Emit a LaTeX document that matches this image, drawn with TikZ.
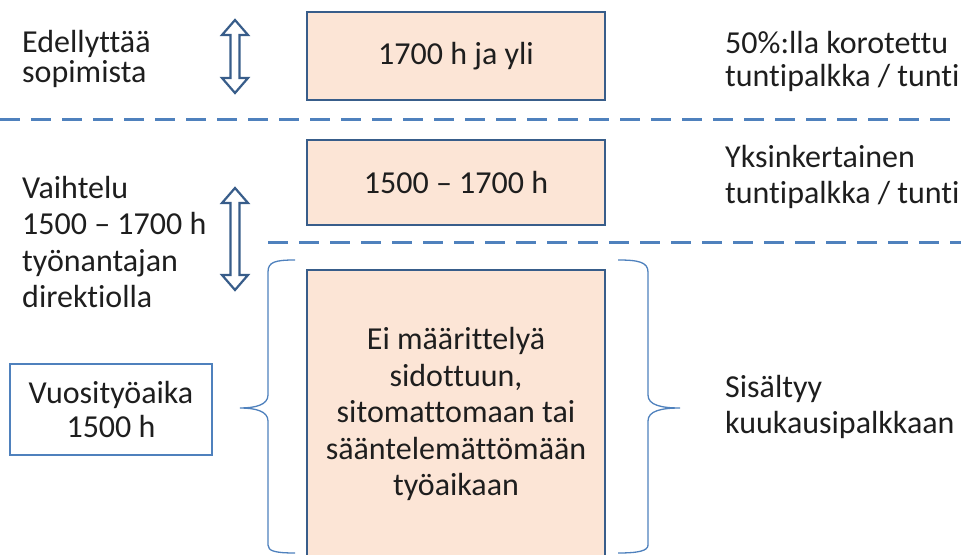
\documentclass[tikz,border=0pt]{standalone}
\usepackage{fontspec}
\setmainfont{Carlito}[Ligatures=NoCommon]
\definecolor{boxfill}{RGB}{252,229,214}
\definecolor{boxline}{RGB}{56,93,138}
\definecolor{dashline}{RGB}{79,129,189}
\definecolor{txt}{RGB}{30,30,30}
\begin{document}
\begin{tikzpicture}[line join=miter,
  band/.style={draw=boxline,fill=boxfill,line width=2.2bp,minimum width=298bp,inner sep=0pt,align=center,text=txt},
  label/.style={draw=none,align=left,anchor=west,inner sep=0pt,text=txt},
  divider/.style={dashline,line width=3bp,dash pattern=on 20bp off 11bp},
  span/.style={boxline,line width=2.2bp,fill=white},
  brace/.style={dashline,line width=1.3bp},
  font=\fontsize{32bp}{36.5bp}\selectfont]
\useasboundingbox (0bp,0bp) rectangle (961bp,555bp);
%%
\node (node_0) at (456bp,499bp) [band,minimum height=88bp] {1700 h ja yli};
  \node (node_1) at (456bp,372.5bp) [band,minimum height=85bp] {1500 -- 1700 h};
  \node (node_2) at (456bp,141bp) [band,minimum height=288bp] {Ei määrittelyä\\sidottuun,\\sitomattomaan tai\\sääntelemättömään\\työaikaan};
  \node (node_3) at (111bp,145.5bp) [band,draw=dashline,fill=white,line width=2bp,minimum width=202bp,minimum height=91bp,font=\fontsize{32bp}{34bp}\selectfont] {Vuosityöaika\\1500 h};
  \node (node_4) at (22bp,496bp) [label,font=\fontsize{32bp}{30bp}\selectfont] {Edellyttää\\sopimista};
  \node (node_5) at (22bp,313bp) [label] {Vaihtelu\\1500 -- 1700 h\\työnantajan\\direktiolla};
  \node (node_6) at (725bp,494bp) [label,font=\fontsize{32bp}{33bp}\selectfont] {50\%:lla korotettu\\tuntipalkka / tunti};
  \node (node_7) at (725bp,378bp) [label] {Yksinkertainen\\tuntipalkka / tunti};
  \node (node_8) at (725bp,148bp) [label] {Sisältyy\\kuukausipalkkaan};
  \draw [divider] (0bp,435bp) -- (961bp,435bp);
  \draw [divider] (268bp,312bp) -- (961bp,312bp);
  \draw [span] (235bp,535bp) -- (248bp,520bp) -- (239.5bp,520bp) -- (239.5bp,477bp) -- (248bp,477bp) -- (235bp,462bp) -- (222bp,477bp) -- (230.5bp,477bp) -- (230.5bp,520bp) -- (222bp,520bp) -- cycle;
  \draw [span] (235bp,367bp) -- (248bp,352bp) -- (239.5bp,352bp) -- (239.5bp,280bp) -- (248bp,280bp) -- (235bp,265bp) -- (222bp,280bp) -- (230.5bp,280bp) -- (230.5bp,352bp) -- (222bp,352bp) -- cycle;
  \draw [brace] (295bp,295bp) ..controls (275bp,295bp) and (268bp,293bp) .. (268bp,283bp) -- (268bp,160bp) ..controls (268bp,150bp) and (255bp,147bp) .. (240bp,147bp) ..controls (255bp,147bp) and (268bp,144bp) .. (268bp,134bp) -- (268bp,10bp) ..controls (268bp,4bp) and (275bp,2bp) .. (295bp,2bp);
  \draw [brace] (618bp,295bp) ..controls (638bp,295bp) and (648bp,293bp) .. (648bp,283bp) -- (648bp,160bp) ..controls (648bp,150bp) and (661bp,147bp) .. (680bp,147bp) ..controls (661bp,147bp) and (648bp,144bp) .. (648bp,134bp) -- (648bp,10bp) ..controls (648bp,4bp) and (638bp,2bp) .. (618bp,2bp);
%
\end{tikzpicture}
\end{document}
